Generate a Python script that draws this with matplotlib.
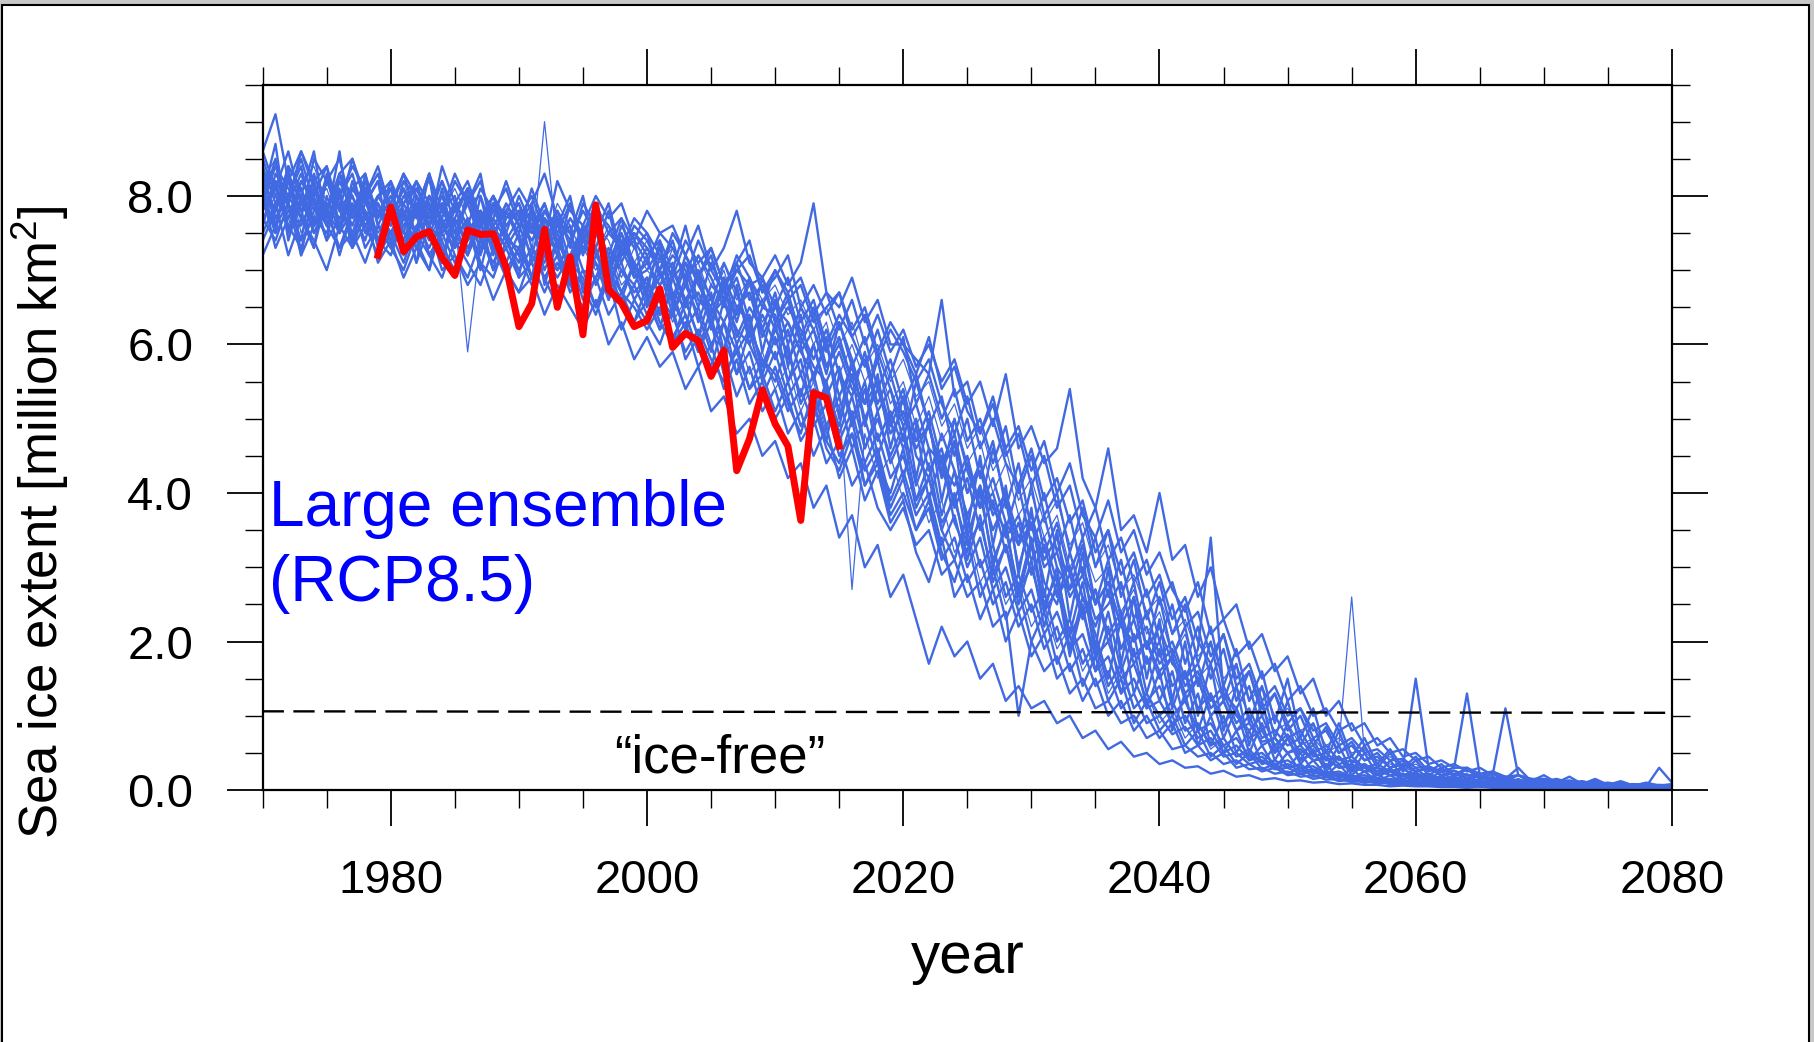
import numpy as np
import matplotlib.pyplot as plt
from matplotlib.ticker import MultipleLocator, FormatStrFormatter
from matplotlib.patches import Rectangle

plt.rcParams['font.family'] = ['Liberation Sans', 'DejaVu Sans']
plt.rcParams['mathtext.fontset'] = 'custom'
plt.rcParams['mathtext.rm'] = 'Liberation Sans'

# years of the model runs (1970-2080) and of the observations (1979-2015)
years = np.arange(1970, 2081)
obs_years = np.arange(1979, 2016)

# observed September extent, million km2 (red)
obs_extent = [7.20, 7.85, 7.25, 7.45, 7.52, 7.17, 6.93, 7.54, 7.48, 7.49,
              7.04, 6.24, 6.55, 7.55, 6.50, 7.18, 6.13, 7.88, 6.74, 6.56,
              6.24, 6.32, 6.75, 5.96, 6.15, 6.05, 5.57, 5.92, 4.30, 4.73,
              5.39, 4.93, 4.63, 3.63, 5.35, 5.28, 4.63]

# "ice-free" threshold line
ice_free_x = [1970, 2080]
ice_free_y = [1.06, 1.04]

# large ensemble members (RCP8.5), one value per year 1970..2080
m01 = [8.2, 7.8, 8.4, 8.1, 7.6, 7.9, 7.7, 8.0, 7.5, 7.9,
       7.6, 8.0, 7.8, 7.4, 8.1, 7.3, 7.5, 7.8, 7.2, 7.7,
       7.9, 7.3, 7.1, 7.6, 7.5, 7.0, 6.9, 7.3, 7.0, 6.8,
       7.2, 6.6, 6.4, 6.9, 6.3, 6.8, 6.6, 6.2, 6.0, 6.5,
       6.4, 5.8, 6.1, 5.7, 5.5, 5.9, 5.4, 5.2, 5.5, 4.9,
       5.3, 4.5, 4.2, 4.8, 4.3, 3.7, 4.1, 3.5, 3.9, 3.0,
       3.6, 2.8, 2.5, 3.2, 2.6, 2.2, 2.7, 1.9, 2.3, 1.7,
       2.0, 1.4, 1.6, 1.1, 1.3, 0.9, 1.1, 0.7, 0.8, 0.5,
       0.7, 0.4, 0.5, 0.3, 0.45, 0.25, 0.3, 0.2, 0.25, 0.15,
       0.2, 0.12, 0.15, 0.1, 0.13, 0.08, 0.1, 0.07, 0.09, 0.06,
       0.07, 0.05, 0.06, 0.04, 0.05, 0.04, 0.05, 0.03, 0.04, 0.03,
       0.04]
m02 = [7.6, 8.3, 8.0, 7.7, 8.5, 8.2, 7.8, 8.1, 8.3, 7.6,
       8.0, 7.7, 8.2, 7.9, 7.5, 7.8, 8.1, 7.6, 7.9, 7.4,
       7.7, 8.0, 7.5, 7.8, 7.3, 7.9, 7.6, 7.2, 7.7, 7.4,
       7.1, 7.5, 7.3, 6.9, 7.4, 7.0, 6.7, 7.2, 6.9, 6.5,
       7.0, 6.6, 6.8, 6.3, 6.5, 6.7, 6.1, 6.4, 5.8, 6.2,
       5.9, 5.5, 5.8, 5.2, 4.8, 5.3, 4.6, 5.0, 4.4, 4.1,
       4.6, 3.9, 4.2, 3.6, 3.9, 3.2, 3.5, 2.9, 3.2, 2.6,
       2.9, 2.3, 2.6, 2.0, 1.7, 2.1, 1.4, 1.6, 1.1, 1.3,
       0.9, 1.1, 0.7, 0.8, 0.5, 0.6, 0.4, 0.45, 0.3, 0.35,
       0.25, 0.3, 0.2, 0.22, 0.15, 0.18, 0.12, 0.14, 0.1, 0.11,
       0.08, 0.1, 0.07, 0.08, 0.06, 0.07, 0.05, 0.06, 0.04, 0.05,
       0.04]
m03 = [7.7, 7.4, 7.9, 7.2, 7.6, 7.8, 7.3, 7.5, 7.1, 7.6,
       7.3, 7.0, 7.5, 7.2, 6.9, 7.4, 7.1, 6.8, 7.3, 7.0,
       6.7, 7.2, 6.9, 6.5, 7.0, 6.8, 6.4, 6.9, 6.2, 6.6,
       6.3, 6.0, 6.5, 5.8, 6.1, 5.6, 5.9, 5.3, 5.7, 5.1,
       5.4, 4.8, 5.1, 4.5, 4.9, 4.2, 4.6, 3.9, 4.3, 3.6,
       3.9, 3.2, 2.8, 3.4, 2.6, 2.9, 2.3, 2.7, 2.0, 2.4,
       1.8, 2.1, 1.5, 1.7, 1.2, 1.5, 1.0, 1.2, 0.8, 1.0,
       0.7, 0.9, 0.5, 0.6, 0.4, 0.5, 0.3, 0.35, 0.25, 0.3,
       0.2, 0.22, 0.15, 0.18, 0.12, 0.14, 0.1, 0.12, 0.08, 0.1,
       0.07, 0.08, 0.06, 0.07, 0.05, 0.06, 0.04, 0.05, 0.04, 0.04,
       0.03, 0.04, 0.03, 0.03, 0.02, 0.03, 0.02, 0.03, 0.02, 0.02,
       0.02]
m04 = [8.6, 8.1, 7.9, 8.3, 7.8, 8.2, 8.0, 7.6, 8.1, 7.8,
       7.5, 7.9, 8.2, 7.6, 7.8, 8.0, 7.4, 7.7, 7.9, 7.5,
       7.2, 7.6, 7.9, 7.4, 7.1, 7.5, 7.8, 7.0, 7.3, 7.1,
       6.8, 7.3, 6.9, 7.1, 6.6, 6.4, 6.9, 6.5, 6.7, 6.1,
       6.5, 6.3, 5.9, 6.2, 5.7, 6.0, 5.5, 5.8, 5.1, 5.4,
       4.9, 5.2, 4.6, 4.4, 4.8, 4.0, 4.3, 3.7, 4.0, 3.4,
       3.7, 3.1, 3.4, 2.7, 3.0, 2.5, 2.8, 2.2, 2.0, 2.4,
       1.8, 2.0, 1.5, 1.7, 1.2, 1.4, 1.0, 0.8, 1.0, 0.6,
       0.75, 0.5, 0.6, 0.4, 0.45, 0.3, 0.35, 0.25, 0.28, 0.2,
       0.22, 0.15, 0.18, 0.12, 0.14, 0.1, 0.12, 0.08, 0.09, 0.07,
       0.08, 0.06, 0.07, 0.05, 0.06, 0.04, 0.05, 0.04, 0.04, 0.03,
       0.04]
m05 = [8.0, 8.7, 7.5, 8.2, 7.9, 7.4, 8.3, 7.7, 8.0, 7.3,
       7.8, 7.2, 8.0, 7.5, 7.1, 7.9, 7.6, 7.0, 7.7, 7.4,
       7.1, 7.8, 6.8, 7.4, 7.6, 6.7, 7.2, 6.9, 6.6, 7.1,
       6.7, 6.2, 6.9, 6.4, 5.9, 6.5, 6.1, 5.6, 6.2, 5.8,
       5.5, 6.0, 5.2, 5.6, 4.9, 5.3, 4.6, 5.0, 4.4, 4.0,
       4.6, 3.8, 4.2, 3.5, 3.1, 3.7, 3.0, 3.3, 2.6, 2.9,
       2.4, 2.7, 2.0, 2.3, 1.7, 2.0, 1.4, 1.7, 1.1, 1.3,
       1.0, 1.2, 0.8, 0.9, 0.6, 0.7, 0.45, 0.55, 0.35, 0.4,
       0.3, 0.35, 0.22, 0.25, 0.18, 0.2, 0.14, 0.16, 0.1, 0.12,
       0.09, 0.1, 0.07, 0.08, 0.06, 0.07, 0.05, 0.06, 0.04, 0.05,
       0.04, 0.05, 0.03, 0.04, 0.03, 0.03, 0.02, 0.03, 0.02, 0.03,
       0.02]
m06 = [7.9, 8.4, 8.1, 7.8, 8.2, 7.6, 8.0, 8.3, 7.7, 8.0,
       8.2, 7.8, 7.5, 8.0, 7.7, 8.2, 7.9, 7.4, 7.8, 8.1,
       7.6, 7.9, 8.3, 7.7, 7.4, 7.8, 7.5, 7.9, 7.2, 7.6,
       7.4, 7.0, 7.5, 7.2, 6.9, 7.3, 6.8, 7.1, 7.4, 6.7,
       6.9, 7.2, 6.5, 6.8, 6.4, 6.7, 6.2, 6.5, 5.9, 6.3,
       6.0, 5.6, 6.1, 5.4, 5.7, 5.1, 4.8, 5.3, 4.6, 4.9,
       4.3, 4.7, 4.0, 4.4, 3.7, 3.4, 3.9, 3.2, 3.5, 2.9,
       3.2, 2.7, 2.4, 2.8, 2.1, 2.3, 1.8, 2.0, 1.5, 1.7,
       1.2, 1.4, 1.0, 1.1, 0.8, 0.9, 0.6, 0.7, 0.5, 0.55,
       0.4, 0.45, 0.3, 0.35, 0.25, 0.3, 0.2, 1.1, 0.2, 0.15,
       0.12, 0.15, 0.1, 0.12, 0.08, 0.1, 0.07, 0.08, 0.06, 0.07,
       0.06]
m07 = [7.5, 7.9, 7.2, 7.7, 7.4, 7.0, 7.6, 7.3, 7.8, 7.1,
       7.4, 6.9, 7.3, 7.6, 7.0, 7.2, 6.8, 7.1, 6.6, 7.0,
       6.7, 6.9, 6.4, 6.8, 6.5, 6.2, 6.6, 6.0, 6.3, 5.8,
       6.1, 5.7, 5.9, 5.4, 5.7, 5.1, 5.3, 4.8, 5.0, 4.5,
       4.7, 4.2, 4.4, 3.8, 4.1, 3.4, 3.7, 3.0, 3.3, 2.6,
       2.9, 2.3, 1.7, 2.2, 1.8, 2.0, 1.5, 1.7, 1.2, 1.4,
       1.1, 1.2, 0.9, 1.0, 0.7, 0.8, 0.55, 0.65, 0.45, 0.5,
       0.35, 0.4, 0.3, 0.32, 0.22, 0.26, 0.18, 0.2, 0.14, 0.16,
       0.12, 0.13, 0.1, 0.11, 0.08, 0.09, 0.07, 0.07, 0.05, 0.06,
       0.05, 0.05, 0.04, 0.04, 0.03, 0.04, 0.03, 0.03, 0.02, 0.03,
       0.02, 0.02, 0.02, 0.02, 0.01, 0.02, 0.01, 0.02, 0.01, 0.01,
       0.01]
m08 = [8.1, 7.7, 8.0, 8.5, 7.9, 7.6, 8.2, 7.8, 7.4, 8.0,
       7.7, 7.4, 7.9, 7.6, 8.0, 7.5, 7.2, 7.8, 7.6, 7.3,
       7.6, 7.2, 7.8, 7.5, 7.0, 7.4, 7.1, 6.8, 7.3, 6.9,
       7.0, 7.3, 6.7, 6.5, 7.0, 6.6, 6.3, 6.7, 6.1, 6.4,
       6.0, 6.3, 5.9, 5.6, 6.0, 5.3, 5.7, 5.0, 5.4, 4.8,
       5.1, 4.6, 4.9, 4.3, 3.9, 4.4, 3.8, 4.0, 3.4, 3.7,
       3.1, 3.4, 2.8, 3.0, 2.4, 2.7, 2.1, 2.4, 1.8, 2.0,
       1.6, 1.8, 1.3, 1.5, 1.0, 1.2, 0.8, 0.9, 0.65, 0.7,
       0.5, 0.55, 0.4, 0.42, 0.3, 0.32, 0.25, 0.26, 0.2, 0.2,
       0.15, 0.16, 0.12, 0.13, 0.1, 0.11, 0.08, 0.09, 0.07, 0.07,
       0.06, 0.06, 0.05, 0.05, 0.04, 0.05, 0.04, 0.04, 0.03, 0.04,
       0.03]
m09 = [8.3, 8.0, 7.6, 8.2, 8.4, 7.9, 7.7, 8.1, 7.9, 7.5,
       7.9, 8.2, 7.7, 7.4, 7.8, 8.1, 7.7, 7.3, 7.6, 7.9,
       7.4, 7.7, 7.3, 7.9, 7.6, 7.2, 7.6, 7.4, 6.9, 7.3,
       7.0, 6.8, 7.3, 6.9, 7.1, 6.6, 7.0, 6.4, 6.8, 6.3,
       6.6, 6.1, 6.5, 6.0, 6.3, 5.6, 6.0, 5.5, 5.8, 5.2,
       5.5, 4.9, 5.3, 4.7, 5.0, 4.4, 4.7, 4.0, 4.4, 3.7,
       4.0, 3.4, 3.7, 3.0, 3.3, 2.8, 3.0, 2.4, 2.7, 2.1,
       2.4, 1.8, 2.1, 1.5, 1.7, 1.2, 1.4, 1.0, 1.1, 0.8,
       0.9, 0.6, 0.7, 0.5, 0.6, 2.6, 0.5, 0.4, 0.35, 0.3,
       0.25, 0.28, 0.2, 0.22, 0.16, 0.18, 0.13, 0.14, 0.1, 0.11,
       0.09, 0.1, 0.07, 0.08, 0.06, 0.07, 0.05, 0.06, 0.05, 0.05,
       0.04]
m10 = [7.8, 8.2, 7.5, 7.9, 8.1, 7.6, 7.3, 7.8, 7.6, 7.2,
       7.5, 7.8, 7.3, 7.0, 7.6, 7.4, 7.7, 7.1, 6.9, 7.4,
       7.0, 7.3, 6.9, 7.2, 6.7, 7.0, 6.5, 6.9, 6.6, 6.3,
       6.6, 6.2, 6.4, 5.9, 6.2, 5.8, 5.5, 6.0, 5.4, 5.6,
       5.1, 5.5, 4.9, 5.2, 4.6, 4.3, 4.8, 4.1, 4.4, 3.7,
       4.0, 3.5, 3.8, 3.1, 3.4, 2.8, 3.1, 2.5, 2.8, 2.2,
       2.5, 1.9, 2.2, 1.6, 1.9, 1.4, 1.6, 1.1, 1.3, 0.9,
       1.0, 0.75, 0.85, 0.6, 0.7, 0.45, 0.5, 0.35, 0.4, 0.28,
       0.3, 0.22, 0.25, 0.18, 0.2, 0.14, 0.16, 0.11, 0.12, 0.09,
       0.1, 0.08, 0.08, 0.06, 0.07, 0.05, 0.06, 0.04, 0.05, 0.04,
       0.04, 0.03, 0.04, 0.03, 0.03, 0.02, 0.03, 0.02, 0.02, 0.02,
       0.02]
m11 = [8.6, 9.1, 8.2, 8.6, 8.1, 7.8, 8.3, 8.5, 7.9, 8.2,
       7.8, 8.3, 8.0, 7.6, 8.4, 7.9, 7.6, 8.1, 7.8, 7.5,
       8.0, 7.6, 7.3, 7.8, 7.5, 8.0, 7.2, 7.5, 7.7, 7.0,
       7.3, 7.0, 6.6, 7.2, 6.8, 6.5, 7.1, 6.7, 6.2, 6.9,
       6.3, 6.6, 6.0, 6.4, 5.7, 6.1, 5.5, 5.2, 5.8, 5.0,
       5.4, 4.7, 4.9, 4.3, 4.7, 4.0, 4.4, 3.8, 3.5, 4.1,
       3.3, 3.7, 3.0, 2.7, 3.3, 2.5, 2.8, 2.2, 2.6, 1.9,
       2.2, 1.7, 1.5, 1.9, 3.4, 1.3, 1.1, 1.4, 0.8, 1.0,
       0.7, 0.8, 0.5, 0.6, 0.4, 0.45, 0.3, 0.35, 0.25, 0.28,
       0.2, 0.22, 0.15, 0.18, 0.12, 0.14, 0.1, 0.11, 0.08, 0.09,
       0.07, 0.08, 0.06, 0.07, 0.05, 0.06, 0.04, 0.05, 0.04, 0.04,
       0.04]
m12 = [7.4, 7.8, 8.2, 7.7, 7.3, 8.0, 7.5, 7.8, 8.1, 7.4,
       7.2, 7.7, 7.5, 7.9, 7.3, 7.0, 7.5, 7.8, 7.4, 7.1,
       7.5, 6.9, 7.3, 7.0, 7.4, 6.8, 7.1, 6.6, 7.0, 6.7,
       6.9, 6.4, 6.7, 6.2, 6.5, 6.0, 6.3, 5.9, 6.2, 5.5,
       5.9, 5.3, 5.6, 5.1, 5.4, 4.7, 5.1, 4.4, 4.8, 4.2,
       4.5, 3.9, 4.2, 3.6, 3.9, 3.3, 3.6, 2.9, 3.3, 2.7,
       3.0, 2.4, 2.7, 2.1, 2.4, 1.8, 2.0, 1.5, 1.7, 1.2,
       1.4, 1.0, 1.2, 0.8, 0.9, 0.6, 0.7, 0.45, 0.5, 0.35,
       0.4, 0.3, 0.32, 0.22, 0.25, 0.18, 0.2, 0.14, 0.15, 0.12,
       0.12, 0.1, 0.1, 0.08, 0.08, 0.06, 0.07, 0.05, 0.06, 0.05,
       0.05, 0.04, 0.04, 0.03, 0.04, 0.03, 0.03, 0.02, 0.03, 0.02,
       0.03]
m13 = [8.0, 7.6, 8.3, 7.9, 8.2, 8.4, 7.8, 7.5, 8.0, 8.3,
       7.7, 8.1, 7.8, 8.3, 7.6, 7.9, 8.2, 7.7, 8.0, 7.6,
       7.8, 7.5, 7.9, 7.3, 7.7, 7.4, 7.9, 7.5, 7.3, 7.7,
       7.5, 7.2, 6.9, 7.4, 7.1, 7.3, 6.8, 7.0, 7.2, 6.7,
       7.0, 6.7, 6.9, 6.4, 6.7, 6.2, 6.6, 6.0, 6.4, 5.9,
       6.2, 5.7, 6.0, 5.5, 5.8, 5.2, 5.5, 4.9, 5.6, 4.6,
       4.9, 4.4, 4.6, 5.4, 4.2, 3.8, 4.6, 3.5, 3.7, 3.2,
       4.0, 3.1, 3.3, 2.6, 3.0, 2.3, 2.5, 1.9, 2.1, 1.6,
       1.8, 1.3, 1.5, 1.0, 1.2, 0.8, 0.9, 0.6, 0.7, 0.45,
       0.5, 0.35, 0.4, 0.3, 0.3, 0.22, 0.25, 0.18, 0.2, 0.15,
       0.15, 0.12, 0.13, 0.1, 0.11, 0.08, 0.09, 0.07, 0.08, 0.06,
       0.07]
m14 = [7.9, 8.1, 7.6, 7.3, 7.8, 8.2, 7.9, 7.4, 7.7, 8.0,
       8.1, 7.5, 7.3, 7.8, 7.5, 7.7, 7.3, 7.6, 8.0, 7.4,
       7.3, 7.7, 7.4, 7.0, 7.2, 7.6, 7.3, 6.8, 7.2, 7.4,
       6.6, 6.9, 7.1, 6.5, 6.7, 6.3, 6.8, 6.1, 6.5, 6.2,
       5.8, 6.2, 5.6, 6.0, 5.3, 5.7, 5.0, 5.5, 4.7, 5.1,
       4.6, 5.0, 4.3, 4.6, 3.8, 4.2, 3.5, 3.9, 3.2, 3.6,
       2.9, 3.3, 2.6, 2.9, 2.3, 2.7, 2.0, 2.3, 1.7, 2.0,
       1.5, 1.8, 1.2, 1.5, 1.0, 1.2, 0.8, 1.0, 0.6, 0.7,
       0.5, 0.6, 0.4, 0.45, 0.3, 0.35, 0.25, 0.3, 0.2, 0.22,
       0.17, 0.18, 0.13, 0.15, 0.11, 0.12, 0.09, 0.1, 0.07, 0.08,
       0.06, 0.07, 0.05, 0.06, 0.04, 0.05, 0.04, 0.04, 0.03, 0.04,
       0.03]
m15 = [8.4, 7.9, 8.2, 8.0, 7.5, 7.8, 8.3, 8.0, 7.6, 7.9,
       7.4, 7.9, 8.1, 7.7, 7.9, 7.4, 8.0, 7.5, 7.7, 8.2,
       7.7, 7.4, 7.7, 7.5, 7.9, 7.3, 7.5, 7.1, 7.5, 6.9,
       7.1, 6.8, 7.0, 6.6, 6.9, 6.4, 6.6, 6.9, 6.3, 6.6,
       6.2, 6.5, 6.2, 5.8, 6.2, 5.6, 5.3, 5.9, 5.2, 5.6,
       5.0, 4.7, 5.1, 4.4, 4.1, 4.5, 3.8, 4.2, 3.6, 3.3,
       3.6, 3.0, 3.2, 2.6, 2.9, 2.3, 2.5, 2.8, 2.0, 2.2,
       1.7, 1.9, 1.4, 1.6, 1.1, 1.3, 0.9, 1.1, 0.7, 0.8,
       0.6, 0.7, 0.45, 0.5, 0.35, 0.4, 0.3, 0.3, 0.25, 0.3,
       1.5, 0.3, 0.25, 0.3, 1.3, 0.2, 0.15, 0.18, 0.12, 0.14,
       0.1, 0.11, 0.08, 0.09, 0.07, 0.08, 0.06, 0.07, 0.05, 0.06,
       0.05]
m16 = [8.1, 7.5, 7.8, 7.6, 8.0, 7.4, 7.7, 7.9, 7.3, 7.6,
       7.3, 7.6, 7.9, 7.2, 7.5, 7.1, 7.4, 7.7, 7.0, 7.3,
       6.9, 7.1, 6.7, 7.1, 6.8, 6.5, 6.9, 6.4, 6.7, 6.5,
       6.2, 6.5, 6.0, 6.3, 5.7, 6.0, 5.4, 5.8, 5.2, 5.5,
       5.0, 5.3, 4.7, 5.0, 4.4, 4.7, 4.1, 4.4, 3.8, 3.5,
       3.8, 3.3, 3.5, 2.9, 3.1, 2.6, 2.8, 2.2, 2.4, 1.0,
       2.0, 1.6, 1.8, 1.3, 1.5, 1.1, 1.2, 0.9, 1.0, 0.7,
       0.8, 0.55, 0.6, 0.45, 0.5, 0.35, 0.4, 0.28, 0.3, 0.22,
       0.25, 0.18, 0.2, 0.14, 0.15, 0.11, 0.12, 0.09, 0.1, 0.07,
       0.08, 0.06, 0.07, 0.05, 0.05, 0.04, 0.05, 0.04, 0.04, 0.03,
       0.03, 0.03, 0.03, 0.02, 0.03, 0.02, 0.02, 0.02, 0.02, 0.01,
       0.02]
m17 = [8.2, 8.5, 7.8, 8.1, 7.7, 8.3, 8.0, 7.7, 8.2, 7.8,
       8.0, 7.6, 7.9, 8.2, 7.5, 7.7, 5.9, 7.4, 7.9, 7.6,
       7.9, 7.5, 7.8, 7.4, 7.7, 7.5, 7.2, 7.6, 7.4, 7.1,
       7.4, 7.1, 7.3, 6.9, 7.2, 6.8, 7.1, 6.6, 6.9, 6.6,
       6.8, 6.4, 6.6, 6.2, 6.5, 6.0, 6.3, 5.7, 6.0, 5.5,
       5.8, 5.3, 5.5, 4.9, 5.2, 4.6, 4.9, 4.3, 4.6, 3.9,
       4.2, 3.6, 3.9, 3.3, 3.6, 3.0, 3.3, 2.7, 2.9, 2.4,
       2.6, 2.1, 2.3, 1.8, 2.0, 1.5, 1.7, 1.2, 1.4, 1.0,
       1.1, 0.8, 0.9, 0.6, 0.7, 0.5, 0.55, 0.4, 0.45, 0.3,
       0.35, 0.25, 0.28, 0.2, 0.22, 0.16, 0.18, 0.13, 0.14, 0.1,
       0.11, 0.09, 0.1, 0.07, 0.08, 0.06, 0.07, 0.05, 0.06, 0.05,
       0.05]
m18 = [7.7, 8.0, 8.3, 7.5, 7.9, 8.1, 7.6, 8.2, 7.8, 7.5,
       7.8, 7.3, 7.6, 8.0, 7.4, 7.8, 7.5, 7.2, 7.6, 7.3,
       7.6, 7.2, 9.0, 7.3, 6.9, 7.3, 7.0, 7.3, 6.8, 7.0,
       6.5, 6.8, 6.3, 6.6, 6.1, 6.4, 5.8, 6.2, 5.6, 5.9,
       5.4, 5.7, 5.1, 5.5, 4.8, 5.2, 2.7, 4.8, 4.2, 4.5,
       3.9, 4.2, 3.6, 3.9, 3.2, 3.5, 2.8, 3.1, 2.5, 2.8,
       2.2, 2.5, 1.9, 2.2, 1.6, 1.9, 1.3, 1.6, 1.1, 1.3,
       0.9, 1.1, 0.7, 0.9, 0.55, 0.7, 0.45, 0.5, 0.35, 0.4,
       0.3, 0.33, 0.22, 0.25, 0.18, 0.2, 0.15, 0.16, 0.12, 0.13,
       0.1, 0.1, 0.08, 0.09, 0.06, 0.07, 0.05, 0.06, 0.04, 0.05,
       0.04, 0.04, 0.03, 0.04, 0.03, 0.03, 0.02, 0.03, 0.02, 0.02,
       0.02]
m19 = [8.5, 8.0, 7.7, 8.2, 8.0, 8.4, 7.6, 8.1, 7.9, 8.2,
       7.9, 8.3, 7.7, 8.0, 7.8, 8.3, 7.9, 8.0, 7.5, 7.8,
       8.1, 7.8, 7.4, 8.2, 7.8, 7.6, 8.0, 7.7, 7.9, 7.4,
       7.8, 7.5, 7.6, 7.2, 7.6, 7.0, 7.3, 7.8, 7.1, 6.9,
       7.2, 6.8, 7.1, 7.9, 6.7, 6.5, 6.9, 6.3, 6.6, 6.0,
       6.0, 5.8, 5.6, 6.6, 5.3, 5.5, 4.8, 5.2, 4.5, 4.8,
       4.1, 4.5, 3.8, 4.1, 3.4, 3.8, 3.1, 3.4, 2.8, 3.1,
       2.5, 2.8, 2.2, 2.4, 1.8, 2.1, 1.5, 1.7, 1.2, 1.4,
       1.0, 1.1, 0.8, 0.9, 0.6, 0.7, 0.5, 0.55, 0.4, 0.42,
       0.3, 0.32, 0.25, 0.26, 0.2, 0.2, 0.15, 0.16, 0.12, 0.13,
       0.1, 0.1, 0.08, 0.09, 0.07, 0.07, 0.06, 0.06, 0.05, 0.05,
       0.05]
m20 = [7.2, 7.6, 7.9, 7.4, 7.7, 7.5, 8.0, 7.3, 7.6, 7.8,
       7.5, 7.1, 7.6, 7.3, 7.7, 7.2, 6.9, 7.4, 7.1, 7.5,
       7.2, 6.8, 7.2, 6.9, 7.2, 6.6, 6.9, 7.1, 6.5, 6.8,
       6.4, 6.6, 6.1, 6.4, 5.9, 6.3, 5.6, 5.9, 5.4, 5.8,
       5.6, 5.1, 5.4, 4.9, 5.2, 4.5, 4.8, 4.3, 4.6, 3.9,
       4.3, 3.7, 4.0, 3.3, 3.7, 3.0, 3.4, 2.7, 3.0, 2.4,
       2.7, 2.1, 2.4, 1.9, 2.1, 1.6, 1.8, 1.3, 1.5, 1.1,
       1.2, 0.9, 1.0, 0.7, 0.8, 0.5, 0.6, 0.4, 0.45, 0.3,
       0.35, 0.25, 0.28, 0.2, 0.22, 0.15, 0.17, 0.12, 0.14, 0.1,
       0.11, 0.08, 0.09, 0.07, 0.08, 0.06, 0.07, 0.05, 0.06, 0.05,
       0.05, 0.06, 0.04, 0.1, 0.05, 0.06, 0.04, 0.08, 0.05, 0.3,
       0.1]
m21 = [8.0, 7.5, 8.4, 7.2, 8.1, 7.7, 8.6, 7.4, 7.9, 8.2,
       7.3, 7.8, 7.1, 8.0, 7.6, 7.3, 8.1, 7.5, 7.0, 7.8,
       7.4, 6.9, 7.7, 7.2, 6.8, 7.6, 7.3, 6.6, 7.4, 7.0,
       6.5, 7.2, 6.6, 6.2, 7.0, 6.3, 5.9, 6.8, 6.0, 5.6,
       6.3, 5.5, 6.0, 5.2, 4.7, 5.6, 4.9, 5.4, 4.5, 5.0,
       4.2, 4.9, 3.9, 4.5, 3.6, 3.2, 4.1, 3.0, 3.6, 2.6,
       3.3, 2.4, 3.0, 1.9, 2.6, 2.1, 1.5, 2.3, 1.3, 1.8,
       1.2, 1.6, 0.9, 1.3, 0.6, 1.0, 0.5, 0.8, 0.35, 0.6,
       0.3, 0.5, 0.25, 0.35, 0.15, 0.3, 0.12, 0.22, 0.1, 0.2,
       0.12, 0.2, 0.08, 0.15, 0.07, 0.12, 0.05, 0.1, 0.05, 0.08,
       0.06, 0.1, 0.04, 0.08, 0.05, 0.07, 0.04, 0.06, 0.03, 0.05,
       0.04]
m22 = [8.3, 7.7, 8.0, 8.4, 7.6, 8.2, 7.8, 8.5, 8.0, 7.7,
       8.1, 7.9, 7.5, 8.3, 7.8, 7.5, 7.9, 8.2, 7.6, 7.8,
       7.5, 8.1, 7.6, 7.2, 7.9, 7.4, 7.7, 7.0, 7.6, 7.3,
       7.5, 6.9, 7.2, 7.0, 6.5, 7.1, 6.7, 6.4, 6.9, 6.2,
       6.7, 6.0, 6.5, 6.2, 5.6, 6.3, 5.8, 5.2, 5.9, 5.4,
       4.7, 5.5, 4.9, 4.2, 5.0, 4.3, 3.8, 4.6, 3.9, 3.3,
       4.1, 3.2, 3.6, 2.9, 3.4, 2.5, 3.1, 2.3, 2.8, 1.9,
       2.6, 1.8, 2.2, 1.4, 2.0, 1.2, 1.7, 0.9, 1.4, 0.7,
       1.2, 0.6, 0.9, 0.4, 0.8, 0.35, 0.6, 0.3, 0.5, 0.25,
       0.4, 0.2, 0.3, 0.18, 0.28, 0.15, 0.22, 0.12, 0.2, 0.1,
       0.15, 0.1, 0.12, 0.08, 0.14, 0.07, 0.1, 0.06, 0.09, 0.05,
       0.07]
m23 = [7.6, 8.2, 7.9, 7.4, 8.3, 7.8, 7.5, 8.2, 7.7, 7.4,
       7.9, 7.4, 7.8, 7.2, 7.5, 7.9, 7.2, 7.6, 7.3, 6.9,
       7.3, 7.6, 7.0, 7.4, 7.0, 7.5, 6.8, 7.2, 6.7, 7.1,
       6.6, 7.0, 6.4, 6.8, 6.4, 5.9, 6.6, 6.0, 6.4, 5.6,
       6.1, 5.5, 5.8, 5.0, 5.5, 4.8, 5.3, 4.6, 5.1, 4.4,
       4.8, 3.9, 4.4, 3.5, 4.0, 3.1, 3.7, 2.8, 3.3, 2.5,
       3.1, 2.2, 2.8, 1.8, 2.5, 1.6, 2.2, 1.3, 1.9, 1.1,
       1.6, 0.8, 1.3, 0.6, 1.0, 0.5, 0.8, 0.4, 0.6, 0.3,
       0.5, 0.25, 0.4, 0.2, 0.35, 0.15, 0.25, 0.12, 0.2, 0.1,
       0.18, 0.08, 0.14, 0.07, 0.12, 0.06, 0.1, 0.05, 0.08, 0.04,
       0.07, 0.04, 0.06, 0.03, 0.05, 0.03, 0.04, 0.03, 0.04, 0.02,
       0.03]
m24 = [8.1, 8.4, 7.9, 8.6, 8.2, 7.7, 8.0, 8.4, 8.1, 7.8,
       7.6, 8.2, 8.0, 7.7, 8.2, 7.8, 8.1, 7.7, 8.0, 7.7,
       7.9, 7.5, 7.8, 7.6, 8.0, 7.2, 7.8, 7.6, 7.2, 7.5,
       7.2, 7.4, 7.0, 7.6, 6.9, 7.2, 6.6, 7.0, 6.8, 6.9,
       6.5, 6.9, 6.3, 6.6, 6.0, 6.4, 6.1, 5.7, 6.2, 5.6,
       6.1, 5.2, 5.6, 5.0, 5.4, 4.7, 5.0, 4.4, 4.9, 4.0,
       4.5, 3.7, 4.0, 3.2, 3.8, 3.0, 3.5, 2.6, 3.1, 2.3,
       2.8, 2.1, 2.5, 1.7, 2.2, 1.4, 1.9, 1.2, 1.6, 0.9,
       1.5, 0.7, 1.1, 0.5, 0.9, 0.45, 0.7, 0.35, 0.55, 0.3,
       0.45, 0.25, 0.35, 0.2, 0.3, 0.18, 0.25, 0.15, 0.3, 0.12,
       0.2, 0.1, 0.18, 0.08, 0.15, 0.07, 0.12, 0.06, 0.1, 0.06,
       0.08]
m25 = [7.9, 8.5, 7.4, 8.0, 8.6, 7.6, 8.1, 7.3, 8.3, 7.7,
       8.2, 7.3, 7.8, 8.3, 7.1, 7.7, 8.1, 7.2, 7.9, 7.5,
       6.9, 7.9, 7.2, 7.7, 6.8, 7.5, 7.9, 6.9, 7.5, 7.1,
       6.7, 7.4, 6.5, 7.1, 6.9, 6.2, 6.9, 6.3, 6.9, 5.9,
       6.6, 5.7, 6.4, 5.5, 6.1, 5.0, 5.8, 4.9, 5.6, 4.6,
       5.3, 4.2, 5.0, 3.9, 4.7, 3.5, 4.5, 3.3, 4.1, 2.9,
       3.8, 2.6, 3.5, 2.3, 3.2, 1.9, 3.0, 1.7, 2.6, 1.5,
       2.3, 1.2, 2.0, 1.0, 1.7, 0.8, 1.4, 0.6, 1.2, 0.5,
       0.9, 0.4, 0.7, 0.3, 0.6, 0.25, 0.5, 0.2, 0.4, 0.18,
       0.3, 0.15, 0.25, 0.12, 0.2, 0.1, 0.18, 0.08, 0.15, 0.07,
       0.12, 0.06, 0.1, 0.05, 0.09, 0.05, 0.08, 0.04, 0.07, 0.04,
       0.05]
m26 = [8.4, 7.6, 8.2, 7.8, 7.3, 8.3, 7.5, 8.1, 7.8, 7.4,
       7.7, 8.1, 7.4, 7.0, 7.9, 7.6, 7.2, 8.0, 7.3, 7.6,
       7.8, 7.1, 7.5, 7.3, 6.8, 7.4, 7.6, 6.9, 7.1, 6.6,
       6.9, 6.4, 7.0, 6.6, 6.1, 6.7, 5.9, 6.5, 6.3, 5.7,
       6.2, 5.9, 5.3, 6.0, 5.4, 4.9, 5.6, 4.6, 5.0, 4.5,
       4.9, 4.1, 4.6, 3.7, 4.3, 3.4, 4.0, 3.1, 3.5, 2.7,
       3.4, 2.5, 2.9, 2.1, 2.8, 1.8, 2.4, 1.6, 2.1, 1.3,
       1.9, 1.1, 1.6, 0.8, 1.3, 0.7, 1.1, 0.5, 0.9, 0.4,
       0.7, 0.35, 0.55, 0.25, 0.45, 0.2, 0.35, 0.15, 0.3, 0.12,
       0.25, 0.1, 0.2, 0.09, 0.15, 0.08, 0.12, 0.06, 0.1, 0.05,
       0.09, 0.05, 0.08, 0.04, 0.07, 0.04, 0.06, 0.03, 0.05, 0.03,
       0.04]
m27 = [7.8, 8.1, 8.6, 7.9, 7.6, 8.2, 8.5, 7.8, 8.0, 8.4,
       7.8, 7.5, 8.1, 7.8, 8.2, 7.6, 7.9, 8.3, 7.4, 7.9,
       7.6, 7.8, 7.4, 7.7, 7.1, 7.6, 7.3, 7.8, 7.1, 7.5,
       7.3, 7.0, 7.4, 6.8, 7.2, 6.9, 6.5, 7.1, 6.6, 6.8,
       6.3, 6.7, 6.1, 6.5, 5.9, 6.3, 5.7, 6.1, 5.4, 5.8,
       5.2, 5.6, 4.9, 5.3, 4.5, 5.0, 4.2, 4.7, 3.8, 4.4,
       3.5, 4.0, 3.2, 3.7, 2.9, 3.4, 2.6, 3.1, 2.3, 2.7,
       2.0, 2.5, 1.7, 2.2, 1.5, 1.9, 1.2, 1.6, 1.0, 1.3,
       0.8, 1.0, 0.6, 0.85, 0.5, 0.65, 0.4, 0.5, 0.3, 0.4,
       0.25, 0.32, 0.2, 0.26, 0.16, 0.2, 0.13, 0.17, 0.1, 0.14,
       0.09, 0.12, 0.08, 0.1, 0.07, 0.08, 0.06, 0.07, 0.05, 0.06,
       0.05]
m28 = [8.0, 7.3, 7.7, 8.1, 7.5, 7.9, 7.2, 7.8, 8.2, 7.6,
       7.4, 7.8, 7.1, 7.6, 7.4, 6.9, 7.7, 7.3, 7.6, 7.0,
       7.3, 6.9, 7.4, 6.6, 7.1, 6.9, 6.5, 7.0, 6.7, 6.3,
       6.8, 6.3, 6.0, 6.6, 6.1, 5.7, 6.3, 5.6, 5.9, 5.3,
       5.7, 5.2, 4.8, 5.4, 4.7, 4.4, 5.0, 4.1, 4.5, 3.8,
       4.2, 3.5, 3.9, 3.2, 2.8, 3.4, 2.6, 3.0, 2.3, 2.7,
       2.0, 2.4, 1.7, 2.1, 1.4, 1.8, 1.2, 1.5, 0.9, 1.2,
       0.8, 1.0, 0.6, 0.8, 0.45, 0.6, 0.35, 0.5, 0.28, 0.35,
       0.22, 0.3, 0.18, 0.22, 0.13, 0.17, 0.1, 0.13, 0.08, 0.1,
       0.07, 0.09, 0.06, 0.07, 0.05, 0.06, 0.04, 0.05, 0.04, 0.04,
       0.03, 0.04, 0.03, 0.03, 0.03, 0.03, 0.02, 0.03, 0.02, 0.02,
       0.02]

members = [m01, m02, m03, m04, m05, m06, m07, m08, m09, m10,
           m11, m12, m13, m14, m15, m16, m17, m18, m19, m20,
           m21, m22, m23, m24, m25, m26, m27, m28]
thin = (8, 16, 17)  # members drawn with a thinner line

fig = plt.figure(figsize=(18.14, 10.42), dpi=100, facecolor='#c8c8c8')
fig.add_artist(Rectangle((1.5 / 1814, -0.02), 1807 / 1814, 1.02 - 5.5 / 1042,
                         transform=fig.transFigure, facecolor='white',
                         edgecolor='black', lw=1.5, zorder=-10))

ax = fig.add_axes([0.1448, 0.2418, 0.7769, 0.6771])

for i, m in enumerate(members):
    ax.plot(years[:len(m)], m, color='#4169e1',
            lw=0.9 if i in thin else 1.7, zorder=2)

ax.plot(obs_years, obs_extent, color='#ff0000', lw=5.0, zorder=5)
ax.plot(ice_free_x, ice_free_y, color='black', lw=1.7,
        ls=(0, (9, 4)), zorder=6)

ax.text(1970.5, 3.56, 'Large ensemble', color='#0000ff', fontsize=46)
ax.text(1970.5, 2.55, '(RCP8.5)', color='#0000ff', fontsize=46)
ax.text(2005.7, 0.23, '\u201cice-free\u201d', ha='center', fontsize=38)

ax.set_xlim(1970, 2080)
ax.set_ylim(0, 9.5)
ax.xaxis.set_major_locator(MultipleLocator(20))
ax.xaxis.set_minor_locator(MultipleLocator(5))
ax.yaxis.set_major_locator(MultipleLocator(2))
ax.yaxis.set_minor_locator(MultipleLocator(0.5))
ax.yaxis.set_major_formatter(FormatStrFormatter('%.1f'))

ax.tick_params(which='both', direction='out', top=True, right=True,
               labelsize=34, colors='black')
ax.tick_params(which='major', length=26, width=1.3)
ax.tick_params(which='minor', length=13, width=1.0)
ax.tick_params(axis='x', pad=24)
ax.tick_params(axis='y', pad=24)
for s in ax.spines.values():
    s.set_linewidth(1.6)

ax.set_xlabel('year', fontsize=42)
ax.xaxis.set_label_coords(0.5, -0.200)
ax.set_ylabel('Sea ice extent [million km$^2$]', fontsize=38)
ax.yaxis.set_label_coords(-0.136, 0.38)

fig.savefig('out.png', dpi=100, facecolor=fig.get_facecolor())
